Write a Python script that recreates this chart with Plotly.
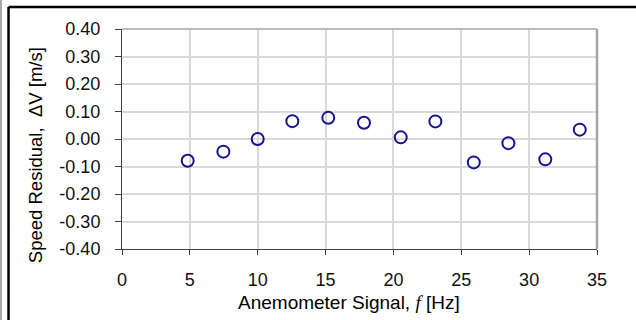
import plotly.graph_objects as go

freq_hz = [4.84, 7.47, 10.0, 12.55, 15.2, 17.83, 20.54, 23.09, 25.92, 28.47, 31.19, 33.73]
residual = [-0.079, -0.046, 0.0, 0.065, 0.077, 0.059, 0.006, 0.064, -0.085, -0.015, -0.074, 0.034]

x_ticks = [0, 5, 10, 15, 20, 25, 30, 35]
y_ticks = [-0.4, -0.3, -0.2, -0.1, 0.0, 0.1, 0.2, 0.3, 0.4]

FONT = "Liberation Sans, Arial, sans-serif"

fig = go.Figure()
fig.add_trace(go.Scatter(
    x=freq_hz, y=residual, mode="markers",
    marker=dict(symbol="circle-open", size=12, color="#15158c",
                line=dict(width=2, color="#15158c")),
    showlegend=False, cliponaxis=False,
))

fig.update_layout(
    width=636, height=320,
    margin=dict(l=122, r=39, t=29, b=71),
    paper_bgcolor="white", plot_bgcolor="white",
    font=dict(family=FONT, size=18, color="black"),
    xaxis=dict(
        range=[0, 35], tickvals=x_ticks, ticktext=[str(v) for v in x_ticks],
        showgrid=True, gridcolor="#d9d9d9", gridwidth=1.5,
        showline=True, linecolor="#404040", linewidth=1,
        ticks="outside", ticklen=5, tickcolor="#404040",
        ticklabelstandoff=9, zeroline=False,
        tickfont=dict(size=18, color="#111111"),
    ),
    yaxis=dict(
        range=[-0.4, 0.4], tickvals=y_ticks, ticktext=[f"{v:.2f}" for v in y_ticks],
        showgrid=True, gridcolor="#d9d9d9", gridwidth=1.5,
        showline=True, linecolor="#404040", linewidth=1,
        ticks="outside", ticklen=6, tickcolor="#404040",
        ticklabelstandoff=11, zeroline=False,
        tickfont=dict(size=18, color="#111111"),
    ),
    shapes=[
        dict(type="line", xref="paper", yref="paper", x0=0, x1=1, y0=1, y1=1,
             line=dict(color="#a6a6a6", width=1.5)),
        dict(type="line", xref="paper", yref="paper", x0=1, x1=1, y0=0, y1=1,
             line=dict(color="#a6a6a6", width=2.5)),
        dict(type="line", xref="paper", yref="paper", x0=-0.2389, x1=1.1, y0=1.1, y1=1.1,
             line=dict(color="black", width=2.5)),
        dict(type="line", xref="paper", yref="paper", x0=-0.2389, x1=-0.2389, y0=-0.4, y1=1.1,
             line=dict(color="black", width=2.5)),
        dict(type="line", xref="paper", yref="paper", x0=-0.2547, x1=-0.2547, y0=-0.4, y1=1.2,
             line=dict(color="#8c8c8c", width=1.5)),
    ],
    annotations=[
        dict(text='Anemometer Signal, <span style="font-family:Liberation Serif, Times New Roman, serif"><i>f</i></span> [Hz]',
             xref="paper", yref="paper", x=0.478, y=-0.245, showarrow=False,
             xanchor="center", yanchor="middle", font=dict(size=19)),
        dict(text="Speed Residual,  ΔV [m/s]",
             xref="paper", yref="paper", x=-0.183, y=0.427, showarrow=False,
             xanchor="center", yanchor="middle", textangle=-90, font=dict(size=18.5)),
    ],
)

fig.write_html("out.html")
